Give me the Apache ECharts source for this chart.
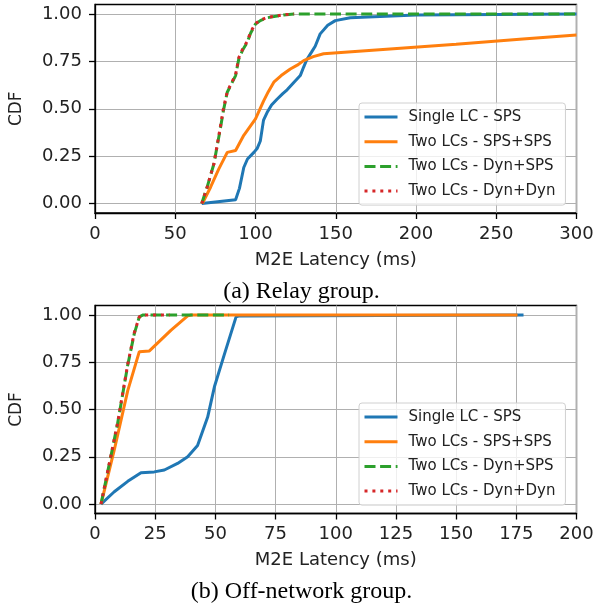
<!DOCTYPE html>
<html>
<head>
<meta charset="utf-8">
<script src="https://cdn.jsdelivr.net/npm/echarts@6/dist/echarts.min.js"></script>
<style>
  html, body { margin: 0; padding: 0; background: #fff; }
  #main { width: 603px; height: 607px; }
</style>
</head>
<body>
<div id="main"></div>
<script>
// series names / legend
const seriesNames = ['Single LC - SPS', 'Two LCs - SPS+SPS', 'Two LCs - Dyn+SPS', 'Two LCs - Dyn+Dyn'];

// (a) relay group, [latency ms, cdf]
const relaySingle = [[66.5,0],[75,0.008],[87.6,0.02],[90,0.08],[92.7,0.19],[95,0.235],[99,0.27],[101,0.29],[103,0.33],[105,0.44],[107.2,0.48],[110,0.52],[113.4,0.55],[117,0.58],[119.7,0.6],[124,0.64],[127.9,0.675],[130,0.72],[132,0.76],[135,0.8],[137.2,0.83],[140.3,0.895],[145,0.94],[149.7,0.965],[159,0.98],[200,0.995],[300,1.0]];
const relayTwoSps = [[66.9,0],[72,0.086],[77,0.18],[82.4,0.27],[87.6,0.28],[92.7,0.36],[100,0.446],[105,0.54],[108,0.59],[111.4,0.64],[116,0.675],[121.7,0.71],[126,0.73],[130,0.754],[136,0.775],[142.4,0.79],[183.8,0.815],[225,0.84],[266.6,0.868],[300,0.889]];
const relayDynSps = [[66.5,0],[70,0.09],[74.1,0.21],[78.2,0.40],[80,0.49],[82.4,0.587],[87.6,0.675],[89.6,0.763],[92,0.81],[94.8,0.85],[97,0.9],[100,0.947],[103,0.965],[107.2,0.98],[117.6,0.995],[124,1.0],[300,1.0]];
const relayDynDyn = [[66.5,0],[70,0.09],[74.1,0.21],[78.2,0.41],[80,0.5],[82.4,0.59],[87.6,0.68],[89.6,0.77],[92,0.815],[94.8,0.855],[97,0.905],[100,0.95],[103,0.967],[107.2,0.982],[117.6,0.996],[124,1.0]];

// (b) off-network group
const offSingle = [[2.5,0],[8,0.065],[13.6,0.12],[19.1,0.166],[24.6,0.17],[28.8,0.18],[34.3,0.215],[38.5,0.25],[42.6,0.31],[46.8,0.46],[49.6,0.62],[53.7,0.79],[58.6,0.99],[60,0.995],[178,1.0]];
const offTwoSps = [[2.5,0],[8,0.286],[13.6,0.6],[18.4,0.806],[22.6,0.81],[31.6,0.92],[38.5,0.995],[40,1.0],[175.5,1.0]];
const offDynSps = [[2.5,0],[9.4,0.427],[13.6,0.735],[16.3,0.9],[18.4,0.99],[20,1.0],[55.7,1.0]];
const offDynDyn = [[2.5,0],[9.4,0.43],[13.6,0.74],[16.3,0.905],[18.4,0.99],[20,1.0],[31,1.0]];

// tick labels
const yTicks = [0, 0.25, 0.5, 0.75, 1.0];
const relayXTicks = [0, 50, 100, 150, 200, 250, 300];
const offXTicks = [0, 25, 50, 75, 100, 125, 150, 175, 200];

const colors = ['#1f77b4', '#ff7f0e', '#2ca02c', '#d62728'];
const lineTypes = ['solid', 'solid', [11, 4.6], [3, 4.9]];
const font = 'DejaVu Sans';

function xAxis(idx, ticks) {
  return {
    type: 'value', gridIndex: idx,
    min: ticks[0], max: ticks[ticks.length - 1], interval: ticks[1] - ticks[0],
    name: 'M2E Latency (ms)', nameLocation: 'middle', nameGap: 38,
    nameTextStyle: { fontFamily: font, fontSize: 18, color: '#222' },
    axisLine: { show: true, onZero: false, lineStyle: { color: '#000', width: 1.3 } },
    axisTick: { show: true, length: 6, lineStyle: { color: '#000', width: 1.3 } },
    axisLabel: { fontFamily: font, fontSize: 18, color: '#222', margin: 12 },
    splitLine: { show: true, lineStyle: { color: '#b0b0b0', width: 1 } }
  };
}

function yAxis(idx) {
  return {
    type: 'value', gridIndex: idx, min: -0.05, max: 1.05,
    name: 'CDF', nameLocation: 'middle', nameGap: 70,
    nameTextStyle: { fontFamily: font, fontSize: 17, color: '#222' },
    axisLine: { show: true, onZero: false, lineStyle: { color: '#000', width: 1.3 } },
    axisTick: { show: true, length: 6, customValues: yTicks, lineStyle: { color: '#000', width: 1.3 } },
    axisLabel: { fontFamily: font, fontSize: 18, color: '#222', margin: 13, customValues: yTicks,
      formatter: v => v.toFixed(2) },
    splitLine: { show: true, lineStyle: { color: '#b0b0b0', width: 1 } }
  };
}

function lines(idx, sets) {
  return sets.map((d, i) => ({
    name: seriesNames[i], type: 'line', xAxisIndex: idx, yAxisIndex: idx,
    data: d, symbol: 'none', animation: false,
    lineStyle: { color: colors[i], width: 3, type: lineTypes[i] },
    itemStyle: { color: colors[i] }
  }));
}

function legend(top) {
  return {
    data: seriesNames, orient: 'vertical', left: 359, top: top,
    itemWidth: 33, itemHeight: 16, itemGap: 8.7,
    itemStyle: { opacity: 0 },
    lineStyle: { width: 3 },
    padding: [6, 10, 6, 4],
    backgroundColor: 'rgba(255,255,255,0.8)', borderColor: '#d0d0d0', borderWidth: 1, borderRadius: 3,
    textStyle: { fontFamily: font, fontSize: 15, color: '#222', lineHeight: 16, padding: [0, 0, 0, 6] }
  };
}

const chart = echarts.init(document.getElementById('main'));
chart.setOption({
  animation: false,
  backgroundColor: '#fff',
  grid: [
    { left: 93.5, width: 483, top: 4.5, height: 208.5, show: true, borderColor: '#000', borderWidth: 1.3 },
    { left: 93.5, width: 483, top: 305.5, height: 208, show: true, borderColor: '#000', borderWidth: 1.3 }
  ],
  xAxis: [xAxis(0, relayXTicks), xAxis(1, offXTicks)],
  yAxis: [yAxis(0), yAxis(1)],
  legend: [legend(103), legend(403)],
  title: [
    { text: '(a) Relay group.', left: 'center', top: 275,
      textStyle: { fontFamily: 'Liberation Serif', fontSize: 24, fontWeight: 'normal', color: '#000' } },
    { text: '(b) Off-network group.', left: 'center', top: 575,
      textStyle: { fontFamily: 'Liberation Serif', fontSize: 24, fontWeight: 'normal', color: '#000' } }
  ],
  series: lines(0, [relaySingle, relayTwoSps, relayDynSps, relayDynDyn])
    .concat(lines(1, [offSingle, offTwoSps, offDynSps, offDynDyn]))
});
</script>
</body>
</html>
